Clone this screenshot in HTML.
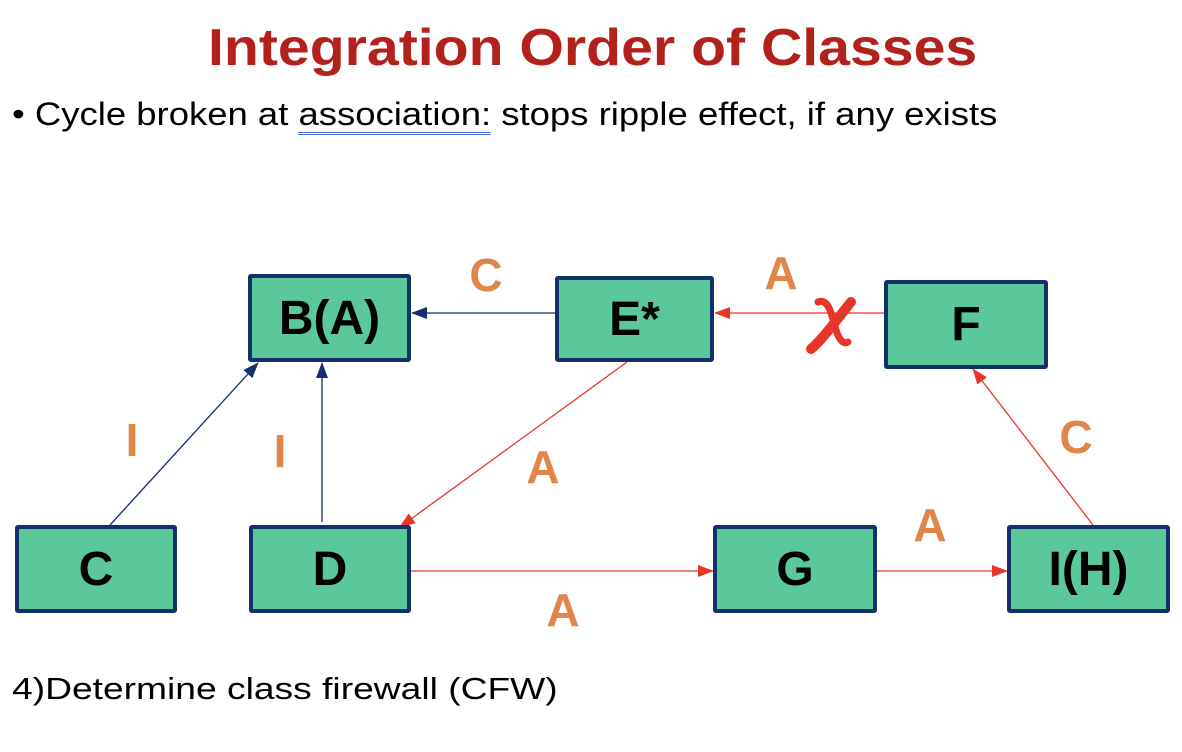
<!DOCTYPE html>
<html><head><style>
body{margin:0;width:1182px;height:752px;background:#fff;position:relative;overflow:hidden;font-family:"Liberation Sans",sans-serif}
.t{position:absolute;left:208px;top:18px;font-size:52px;color:#b3211c;font-weight:bold;white-space:nowrap;transform-origin:0 0;transform:scaleX(1.1)}
.b{position:absolute;left:12px;top:96px;font-size:32px;color:#000;white-space:nowrap;transform-origin:0 0;transform:scaleX(1.14)}
.f{position:absolute;left:12px;top:671px;font-size:31px;color:#000;white-space:nowrap;transform-origin:0 0;transform:scaleX(1.2)}
.n{position:absolute;box-sizing:border-box;border:4px solid #13306b;border-radius:3px;background:#5bc89c;display:flex;align-items:center;justify-content:center;font-weight:bold;font-size:48px;color:#000}
.l{position:absolute;font-weight:bold;font-size:46px;color:#e2854a;transform:translate(-50%,-50%)}
</style></head><body>
<div class="t">Integration Order of Classes</div>
<div class="b">• Cycle broken at <span style="border-bottom:3px double #4a6fd0">association:</span> stops ripple effect, if any exists</div>
<svg width="1182" height="752" style="position:absolute;left:0;top:0">
<defs>
<marker id="rd" markerWidth="16" markerHeight="12" refX="15" refY="6" orient="auto" markerUnits="userSpaceOnUse"><path d="M0,0L16,6L0,12z" fill="#e8352a"/></marker>
<marker id="bb" markerWidth="16" markerHeight="12" refX="15" refY="6" orient="auto" markerUnits="userSpaceOnUse"><path d="M0,0L16,6L0,12z" fill="#13306b"/></marker>
</defs>
<g stroke-width="1.3" fill="none">
<line x1="110" y1="525" x2="258" y2="363" stroke="#13306b" marker-end="url(#bb)"/>
<line x1="322" y1="522" x2="322" y2="363" stroke="#13306b" marker-end="url(#bb)"/>
<line x1="555" y1="313" x2="412" y2="313" stroke="#13306b" marker-end="url(#bb)"/>
<line x1="884" y1="313" x2="715" y2="313" stroke="#e8352a" marker-end="url(#rd)"/>
<line x1="627" y1="362" x2="400" y2="527" stroke="#e8352a" marker-end="url(#rd)"/>
<line x1="410" y1="571" x2="713" y2="571" stroke="#e8352a" marker-end="url(#rd)"/>
<line x1="876" y1="571" x2="1007" y2="571" stroke="#e8352a" marker-end="url(#rd)"/>
<line x1="1093" y1="525" x2="973" y2="369" stroke="#e8352a" marker-end="url(#rd)"/>
</g>
<g stroke="#e8352a" fill="none" stroke-linecap="round">
<path d="M811,349 C822,340 838,318 851,302" stroke-width="10"/>
<path d="M818,302 C830,298 832,318 836,330 C839,340 844,345 848,342" stroke-width="7"/>
</g>
</svg>
<div class="n" style="left:248px;top:274px;width:163px;height:88px">B(A)</div>
<div class="n" style="left:555px;top:276px;width:159px;height:86px">E*</div>
<div class="n" style="left:884px;top:280px;width:164px;height:89px">F</div>
<div class="n" style="left:15px;top:525px;width:162px;height:88px">C</div>
<div class="n" style="left:249px;top:525px;width:162px;height:88px">D</div>
<div class="n" style="left:713px;top:525px;width:164px;height:88px">G</div>
<div class="n" style="left:1007px;top:525px;width:163px;height:88px">I(H)</div>
<div class="l" style="left:486px;top:275px">C</div>
<div class="l" style="left:781px;top:273px">A</div>
<div class="l" style="left:132px;top:440px">I</div>
<div class="l" style="left:280px;top:451px">I</div>
<div class="l" style="left:543px;top:467px">A</div>
<div class="l" style="left:563px;top:610px">A</div>
<div class="l" style="left:930px;top:525px">A</div>
<div class="l" style="left:1076px;top:437px">C</div>
<div class="f">4)Determine class firewall (CFW)</div>
</body></html>
